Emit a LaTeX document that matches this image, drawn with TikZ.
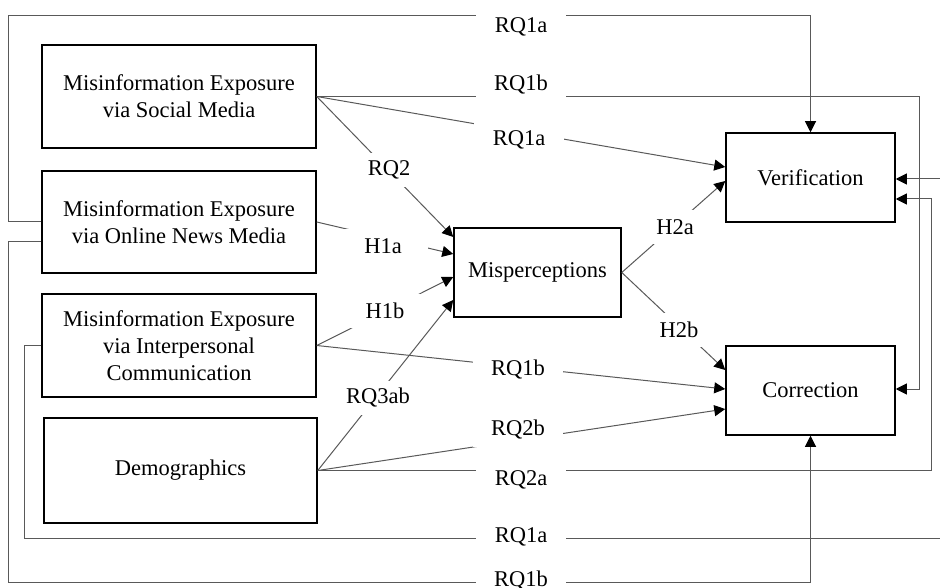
\documentclass[tikz,border=0pt]{standalone}
\usepackage{fontspec}
\setmainfont{Liberation Serif}
\usetikzlibrary{arrows.meta}

\tikzset{
  var/.style={draw, line width=1.5pt, align=center, inner sep=2pt,
    font=\fontsize{22.5}{27}\selectfont},
  link/.style={draw=black!65, line width=1pt},
  arr/.style={link, -{Triangle[length=11pt,width=11pt,color=black]}},
  lbl/.style={fill=white, minimum width=90pt, minimum height=34pt, inner sep=0pt,
    font=\fontsize{22.5}{27}\selectfont}
}

\begin{document}
\begin{tikzpicture}[x=1pt, y=-1pt]
                \useasboundingbox (0,0) rectangle (940,588);
                \clip (0,0) rectangle (940,588);

                % variables
                \node[var, minimum width=274pt, minimum height=103pt] (social) at (179,96.5) {Misinformation Exposure\\via Social Media};
                \node[var, minimum width=274pt, minimum height=102pt] (online) at (179,222) {Misinformation Exposure\\via Online News Media};
                \node[var, minimum width=274pt, minimum height=103pt] (interp) at (179,345.5) {Misinformation Exposure\\via Interpersonal\\Communication};
                \node[var, minimum width=273pt, minimum height=105pt] (demo) at (180.5,470.5) {Demographics};
                \node[var, minimum width=167pt, minimum height=89pt] (misp) at (537.5,272.5) {Misperceptions};
                \node[var, minimum width=169pt, minimum height=89pt] (verif) at (810.5,177.5) {Verification};
                \node[var, minimum width=169pt, minimum height=89pt] (corr) at (810.5,390.5) {Correction};

                % paths
                \draw[arr] (online.west) -| (8,16) -| (verif.north);
                \draw[arr] (social.east) -| (919,389) -- ([yshift=1.5pt]corr.east);
                \draw[arr] (social.east) -- ([yshift=10.5pt]verif.west);
                \draw[arr] (social.east) -- ([yshift=35.5pt]misp.west);
                \draw[arr] (online.east) -- ([yshift=18.5pt]misp.west);
                \draw[arr] (interp.east) -- ([yshift=-4.5pt]misp.west);
                \draw[arr] (interp.east) -- ([yshift=1.5pt]corr.west);
                \draw[arr] (demo.east) -- ([yshift=-27.5pt]misp.west);
                \draw[arr] (demo.east) -- ([yshift=-18.5pt]corr.west);
                \draw[arr] (demo.east) -| (931,199) -- ([yshift=-21.5pt]verif.east);
                \draw[arr] (interp.west) -| (24,538) -- (960,538) |- ([yshift=-1.5pt]verif.east);
                \draw[arr] ([yshift=-20pt]online.west) -| (8,582) -| (corr.south);
                \draw[arr] (misp.east) -- ([yshift=-3.5pt]verif.west);
                \draw[arr] (misp.east) -- ([yshift=20.5pt]corr.west);

                % labels
                \node[lbl] (l1) at (521,27) {RQ1a};
                \node[lbl] (l2) at (521,85) {RQ1b};
                \node[lbl] (l3) at (519,140) {RQ1a};
                \node[lbl] (l4) at (389,170) {RQ2};
                \node[lbl] (l5) at (383,246) {H1a};
                \node[lbl] (l6) at (385,311) {H1b};
                \node[lbl] (l7) at (378,398) {RQ3ab};
                \node[lbl] (l8) at (518,370) {RQ1b};
                \node[lbl] (l9) at (518,430) {RQ2b};
                \node[lbl] (l10) at (521,480) {RQ2a};
                \node[lbl] (l11) at (521,537) {RQ1a};
                \node[lbl] (l12) at (521,581) {RQ1b};
                \node[lbl] (l13) at (675,227) {H2a};
                \node[lbl] (l14) at (679,330) {H2b};
\end{tikzpicture}
\end{document}
